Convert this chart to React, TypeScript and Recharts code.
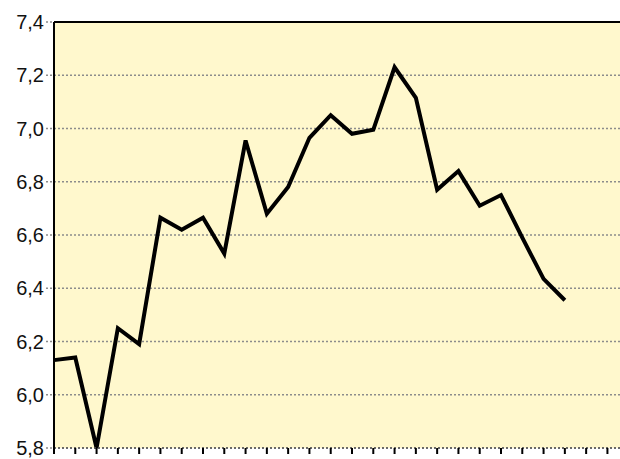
import { LineChart, Line, XAxis, YAxis, CartesianGrid, ReferenceLine } from 'recharts';

// one reading per period
const VALUES = [
  6.13, 6.14, 5.8, 6.25, 6.19, 6.665, 6.62, 6.665, 6.53, 6.955,
  6.68, 6.78, 6.965, 7.05, 6.98, 6.995, 7.23, 7.115, 6.77, 6.84,
  6.71, 6.75, 6.59, 6.435, 6.355,
];
const PERIOD_TICKS = [
  0, 1, 2, 3, 4, 5, 6, 7, 8, 9, 10, 11, 12, 13, 14,
  15, 16, 17, 18, 19, 20, 21, 22, 23, 24, 25, 26, 27, 28,
];
const Y_TICKS = [5.8, 6.0, 6.2, 6.4, 6.6, 6.8, 7.0, 7.2, 7.4];

const data = VALUES.map((v, i) => ({ period: PERIOD_TICKS[i], value: v }));

const fmt = (v: number) => v.toFixed(1).replace('.', ',');

// x axis keeps its tick marks but shows no labels
const NoLabel = () => <g />;

export default function App() {
  return (
    <div style={{ position: 'absolute', left: 0, top: 0, width: 620, height: 459, overflow: 'hidden', background: '#fff' }}>
      <LineChart
        width={650}
        height={459}
        data={data}
        margin={{ top: 22, right: 0, bottom: 0, left: 0 }}
        style={{ fontFamily: '"Liberation Sans", Arial, sans-serif' }}
      >
        <CartesianGrid
          vertical={false}
          fill="#FFF8CD"
          stroke="#8c8c8c"
          strokeWidth={1.5}
          strokeDasharray="2 2"
        />
        <XAxis
          dataKey="period"
          type="number"
          domain={[0, 28]}
          ticks={PERIOD_TICKS}
          interval={0}
          height={11}
          tick={NoLabel}
          tickSize={6}
          axisLine={{ stroke: '#555', strokeWidth: 1.5, strokeDasharray: '2 2' }}
          tickLine={{ stroke: '#000', strokeWidth: 2 }}
        />
        <YAxis
          width={54}
          domain={[5.8, 7.4]}
          ticks={Y_TICKS}
          interval={0}
          tickFormatter={fmt}
          tickSize={8}
          tickMargin={2}
          tick={{ fontSize: 20, fill: '#111' }}
          axisLine={{ stroke: '#000', strokeWidth: 2 }}
          tickLine={{ stroke: '#8c8c8c', strokeWidth: 1.5, strokeDasharray: '2 2' }}
        />
        {/* solid frame along the top of the plot */}
        <ReferenceLine y={7.4} stroke="#000" strokeWidth={2} />
        <Line
          type="linear"
          dataKey="value"
          stroke="#000"
          strokeWidth={4}
          dot={false}
          isAnimationActive={false}
        />
      </LineChart>
    </div>
  );
}
